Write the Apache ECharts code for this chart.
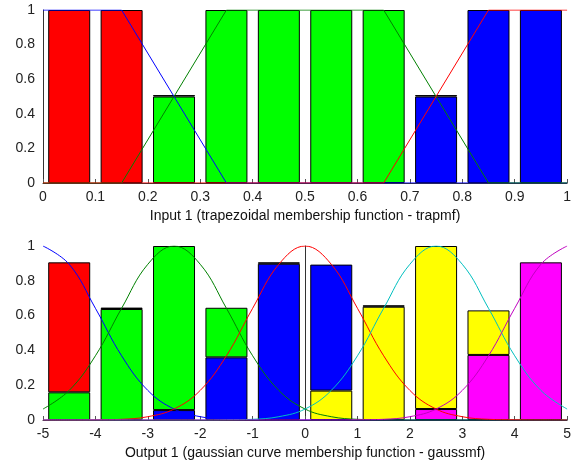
<!DOCTYPE html>
<html><head><meta charset="utf-8">
<script src="https://cdn.jsdelivr.net/npm/echarts@6/dist/echarts.min.js"></script>
<style>html,body{margin:0;padding:0;background:#fff}#c{width:574px;height:468px}</style>
</head><body><div id="c"></div>
<script>
// ---- Top subplot data (Input 1) ----
const topCenters = ['0.05','0.15','0.25','0.35','0.45','0.55','0.65','0.75','0.85','0.95'];
const topRed   = [1,1,0,0,0,0,0,0,0,0];
const topGreen = [0,0,0.5,1,1,1,1,0,0,0];
const topBlue  = [0,0,0,0,0,0,0,0.5,1,1];
const topCap   = [0,0,0.008,0,0,0,0,0.008,0,0];
const topMfBlue  = [[0,1],[0.15,1],[0.35,0],[1,0]];
const topMfGreen = [[0,0],[0.15,0],[0.35,1],[0.65,1],[0.85,0],[1,0]];
const topMfRed   = [[0,0],[0.65,0],[0.85,1],[1,1]];

// ---- Bottom subplot data (Output 1) ----
const botCenters = ['-4.5','-3.5','-2.5','-1.5','-0.5','0.5','1.5','2.5','3.5','4.5'];
const botMagenta = [0,0,0,0,0,0,0,0.063,0.374,0.906];
const botYellow  = [0,0,0,0,0,0.169,0.651,0.937,0.256,0];
const botBlue    = [0,0,0.057,0.36,0.898,0.724,0,0,0,0];
const botGreen   = [0.159,0.638,0.943,0.285,0,0,0,0,0,0];
const botRed     = [0.747,0,0,0,0,0,0,0,0,0];
const botCap     = [0,0.008,0,0,0.008,0,0.008,0,0,0];
const botX = [-5,-4.5,-4,-3.5,-3,-2.5,-2,-1.5,-1,-0.5,0,0.5,1,1.5,2,2.5,3,3.5,4,4.5,5];
const mfBlue    = [1,0.895,0.642,0.369,0.17,0.063,0.019,0.004,0.001,0,0,0,0,0,0,0,0,0,0,0,0];
const mfGreen   = [0.063,0.17,0.369,0.642,0.895,1,0.895,0.642,0.369,0.17,0.063,0.019,0.004,0.001,0,0,0,0,0,0,0];
const mfRed     = [0,0,0.001,0.004,0.019,0.063,0.17,0.369,0.642,0.895,1,0.895,0.642,0.369,0.17,0.063,0.019,0.004,0.001,0,0];
const mfCyan    = [0,0,0,0,0,0,0,0.001,0.004,0.019,0.063,0.17,0.369,0.642,0.895,1,0.895,0.642,0.369,0.17,0.063];
const mfMagenta = [0,0,0,0,0,0,0,0,0,0,0,0,0.001,0.004,0.019,0.063,0.17,0.369,0.642,0.895,1];

const FONT = "'Liberation Sans', Arial, sans-serif";
function barSeries(name, vs, color, catIdx, yIdx, stack){
  return {name, type:'bar', xAxisIndex:catIdx, yAxisIndex:yIdx, stack, barWidth:42,
    data: vs.map(v => v > 0 ? v : '-'), itemStyle:{color, borderColor:'#000', borderWidth:1}, z:2, animation:false};
}
function lineSeries(data, color, idx, smooth){
  return {type:'line', xAxisIndex:idx, yAxisIndex:idx, data, showSymbol:false, symbol:'none', smooth: smooth||false,
    lineStyle:{color, width:1}, z:5, animation:false};
}
function xAx(idx, min, max, interval, name){
  return {type:'value', gridIndex:idx, min, max, interval, name, nameLocation:'middle', nameGap:26,
    nameTextStyle:{fontFamily:FONT, fontSize:14, color:'#111'},
    axisLine:{show:true, lineStyle:{color:'#333'}},
    axisTick:{show:true, inside:true, length:4, lineStyle:{color:'#555'}},
    axisLabel:{fontFamily:FONT, fontSize:14, color:'#222', margin:7},
    splitLine:{show:false}};
}
function catAx(idx, cats){
  return {type:'category', gridIndex:idx, data:cats, boundaryGap:true, show:false};
}
function yAx(idx){
  return {type:'value', gridIndex:idx, min:0, max:1, interval:0.2,
    axisLine:{show:true, lineStyle:{color:'#333'}}, axisTick:{show:false},
    axisLabel:{fontFamily:FONT, fontSize:14, color:'#222', margin:8},
    splitLine:{show:false}};
}
const chart = echarts.init(document.getElementById('c'), null, {renderer:'canvas'});
const botZip = a => botX.map((x,i)=>[x,a[i]]);
chart.setOption({
  backgroundColor:'#fff',
  animation:false,
  grid:[{left:43, right:4, top:10, height:173},{left:43, right:5, top:246, height:174}],
  xAxis:[xAx(0,0,1,0.1,'Input 1 (trapezoidal membership function - trapmf)'),
         xAx(1,-5,5,1,'Output 1 (gaussian curve membership function - gaussmf)'),
         catAx(0, topCenters), catAx(1, botCenters)],
  yAxis:[yAx(0), yAx(1)],
  series:[
    barSeries('r', topRed, '#ff0000', 2, 0, 'top'),
    barSeries('g', topGreen, '#00ff00', 2, 0, 'top'),
    barSeries('b', topBlue, '#0000ff', 2, 0, 'top'),
    barSeries('cap', topCap, '#000000', 2, 0, 'top'),
    lineSeries(topMfBlue, '#0000ff', 0),
    lineSeries(topMfGreen, '#008000', 0),
    lineSeries(topMfRed, '#ff0000', 0),
    barSeries('m', botMagenta, '#ff00ff', 3, 1, 'bot'),
    barSeries('y', botYellow, '#ffff00', 3, 1, 'bot'),
    barSeries('b2', botBlue, '#0000ff', 3, 1, 'bot'),
    barSeries('g2', botGreen, '#00ff00', 3, 1, 'bot'),
    barSeries('r2', botRed, '#ff0000', 3, 1, 'bot'),
    barSeries('cap2', botCap, '#000000', 3, 1, 'bot'),
    lineSeries(botZip(mfBlue), '#0000ff', 1, 0.4),
    lineSeries(botZip(mfGreen), '#008000', 1, 0.4),
    lineSeries(botZip(mfRed), '#ff0000', 1, 0.4),
    lineSeries(botZip(mfCyan), '#00bfbf', 1, 0.4),
    lineSeries(botZip(mfMagenta), '#bf00bf', 1, 0.4)
  ]
});
</script></body></html>
